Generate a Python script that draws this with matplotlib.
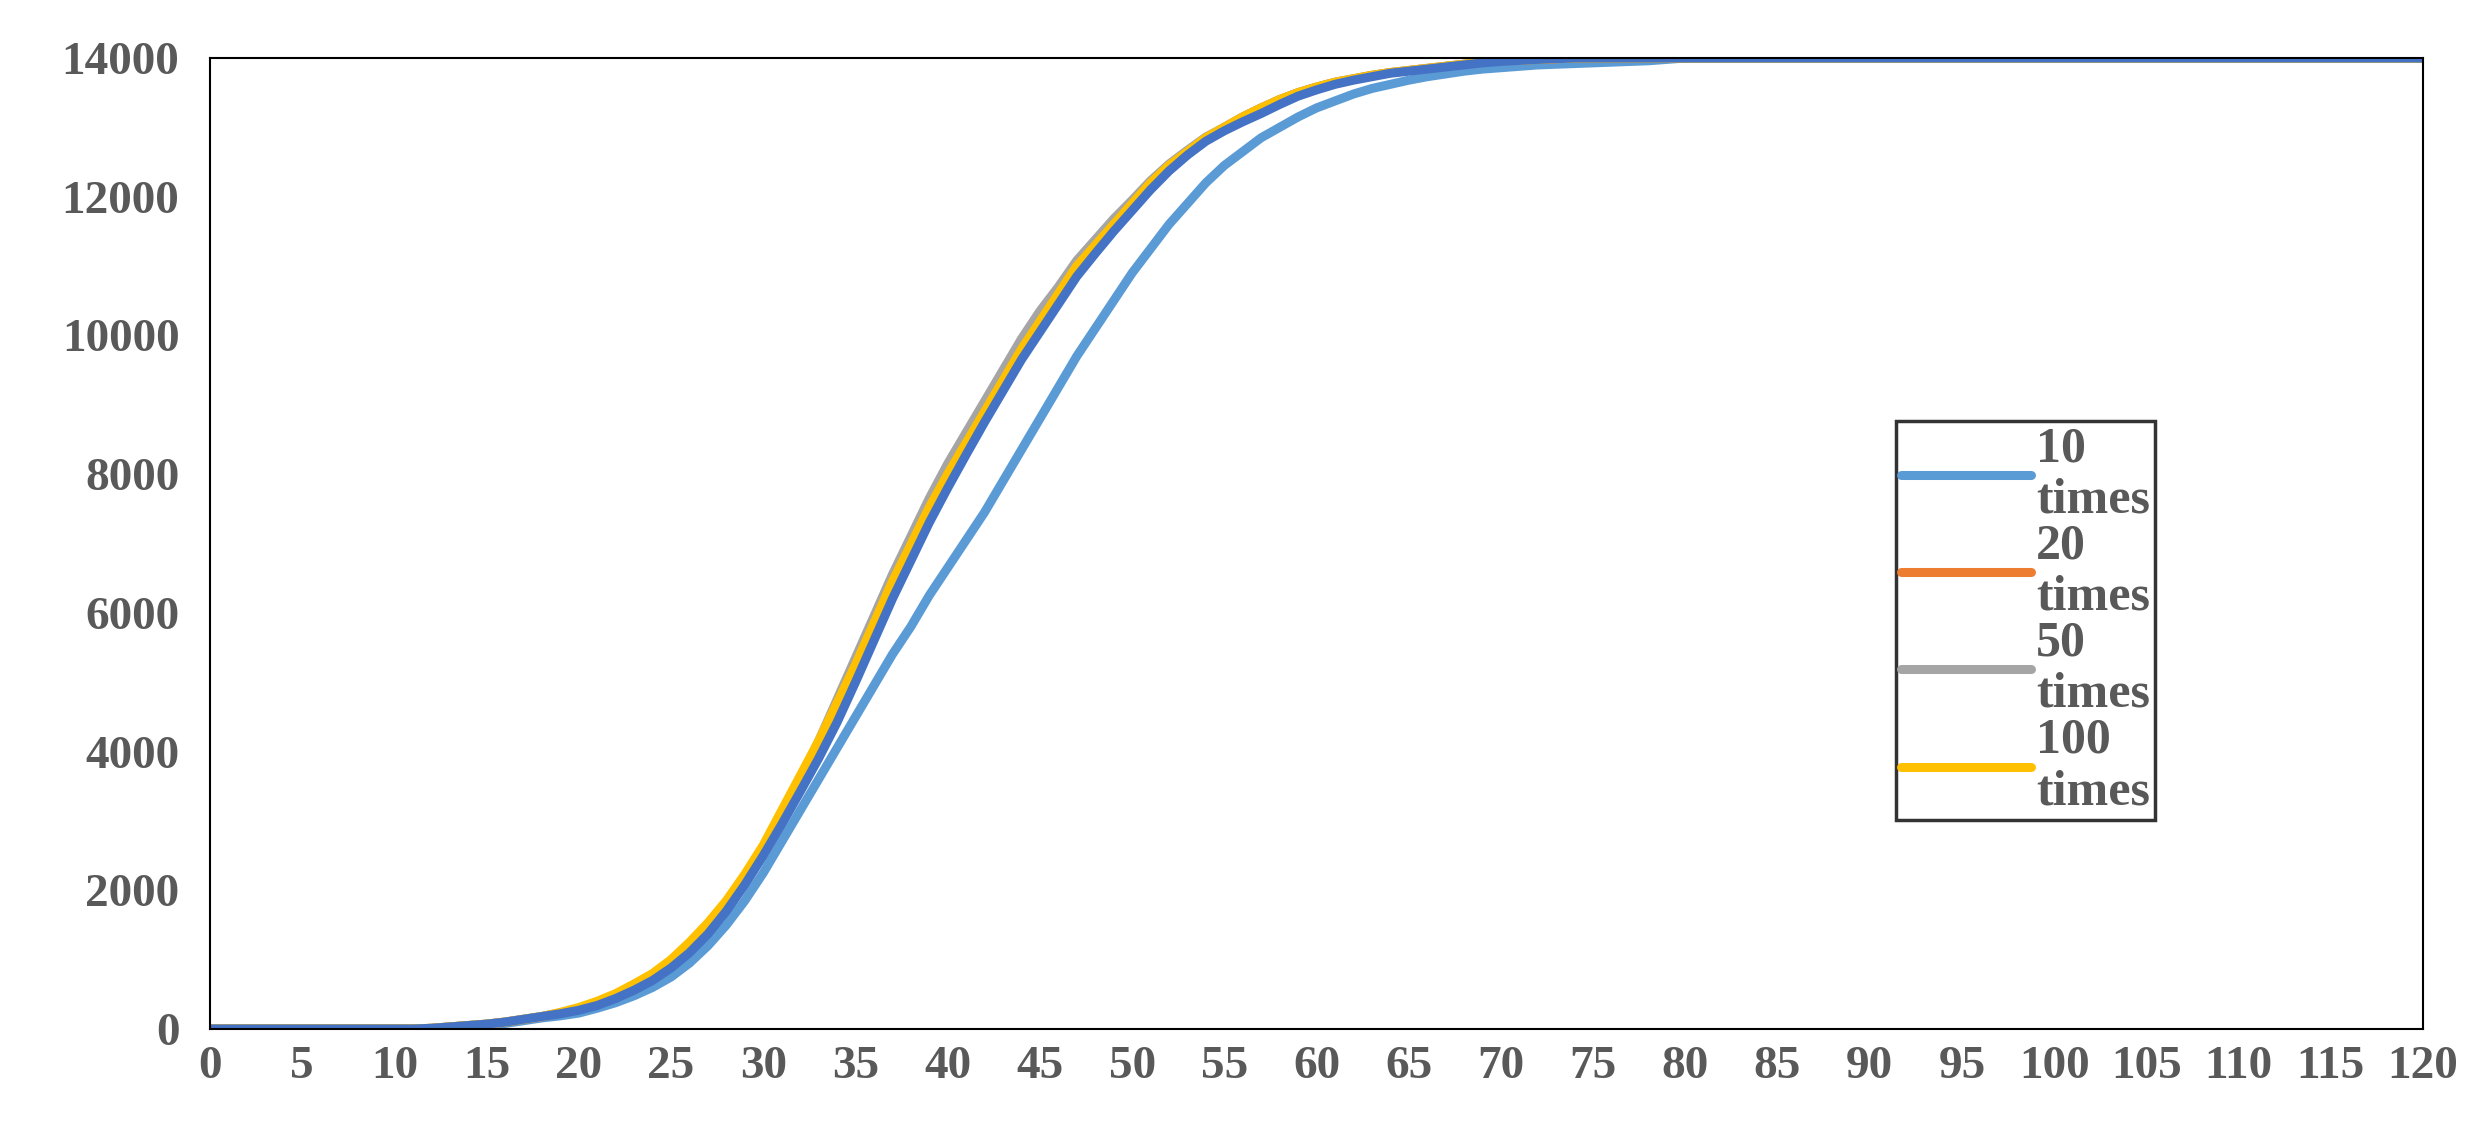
import matplotlib.pyplot as plt

x = list(range(0, 121))
tail = [14000] * 40  # x = 81..120, all curves flat at the top

times10 = [0]*15 + [40, 80, 120, 160, 190, 230, 300, 380, 480, 600, 750, 950, 1200, 1500, 1850,
    2250, 2700, 3150, 3600, 4050, 4500, 4950, 5400, 5800, 6250, 6650, 7050, 7450, 7900, 8350,
    8800, 9250, 9700, 10100, 10500, 10900, 11250, 11600, 11900, 12200, 12450, 12650, 12850, 13000, 13150,
    13280, 13380, 13480, 13560, 13620, 13680, 13730, 13770, 13810, 13840, 13860, 13880, 13900, 13910, 13920,
    13930, 13940, 13950, 13960, 13980, 14000] + tail
times20 = [0]*12 + [10, 30, 50, 70, 100, 140, 180, 230, 290, 370, 470, 600, 750, 950, 1180,
    1450, 1780, 2150, 2580, 3050, 3550, 4050, 4600, 5200, 5800, 6400, 6950, 7500, 8000, 8450,
    8900, 9350, 9800, 10200, 10600, 11000, 11300, 11600, 11900, 12200, 12450, 12650, 12850, 13000, 13150,
    13280, 13400, 13500, 13580, 13650, 13700, 13750, 13790, 13820, 13850, 13880, 13910, 13940, 13960, 13970,
    13980, 13990] + [14000]*7 + tail
times50 = [0]*12 + [10, 30, 50, 70, 100, 140, 180, 230, 290, 370, 470, 600, 750, 950, 1180,
    1450, 1780, 2150, 2580, 3050, 3600, 4150, 4750, 5350, 5950, 6550, 7100, 7650, 8150, 8600,
    9050, 9500, 9950, 10350, 10700, 11080, 11380, 11680, 11950, 12230, 12470, 12670, 12860, 13000, 13150,
    13280, 13400, 13500, 13580, 13650, 13700, 13750, 13790, 13820, 13850, 13880, 13910, 13940, 13960, 13970,
    13980, 13990] + [14000]*7 + tail
times100 = [0]*12 + [10, 30, 50, 70, 100, 140, 180, 240, 310, 400, 510, 650, 800, 1000, 1250,
    1530, 1850, 2230, 2650, 3150, 3650, 4150, 4700, 5250, 5850, 6450, 6980, 7520, 8000, 8450,
    8900, 9350, 9800, 10200, 10600, 11000, 11300, 11600, 11900, 12200, 12450, 12650, 12850, 13000, 13150,
    13280, 13400, 13500, 13580, 13650, 13700, 13750, 13790, 13820, 13850, 13880, 13910, 13940, 13960, 13970,
    13980, 13990] + [14000]*7 + tail
times200 = [0]*12 + [10, 30, 50, 70, 100, 140, 180, 220, 270, 340, 440, 560, 700, 880, 1100,
    1370, 1700, 2080, 2500, 2950, 3420, 3900, 4420, 5000, 5600, 6200, 6750, 7300, 7800, 8280,
    8750, 9200, 9650, 10050, 10450, 10850, 11180, 11500, 11800, 12100, 12370, 12600, 12800, 12950, 13080,
    13200, 13330, 13450, 13540, 13620, 13680, 13730, 13780, 13810, 13840, 13870, 13900, 13930, 13950, 13965,
    13980, 13990] + [14000]*7 + tail

series = [
    ("10\ntimes", times10, "#5B9BD5"),
    ("20\ntimes", times20, "#ED7D31"),
    ("50\ntimes", times50, "#A5A5A5"),
    ("100\ntimes", times100, "#FFC000"),
    (None, times200, "#4472C4"),
]

plt.rcParams['font.family'] = ['Liberation Serif', 'DejaVu Serif']
fig = plt.figure(figsize=(24.79, 11.28), dpi=100)
ax = fig.add_axes([210/2479, 1 - 1029/1128, 2213/2479, 971/1128])

for label, y, c in series:
    ax.plot(x, y, color=c, lw=6.5, label=label, solid_capstyle='round')

ax.set_xlim(0, 120)
ax.set_ylim(0, 14000)
ax.set_xticks(range(0, 121, 5))
ax.set_yticks(range(0, 14001, 2000))
ax.tick_params(length=0, labelsize=34, labelcolor="#595959")
ax.tick_params(axis="y", pad=22)
ax.tick_params(axis="x", pad=12)
for t in ax.get_xticklabels() + ax.get_yticklabels():
    t.set_fontweight("bold")
for sp in ax.spines.values():
    sp.set_color("black")
    sp.set_linewidth(1.5)

h, l = ax.get_legend_handles_labels()
leg = ax.legend(h[:4], l[:4], loc="lower left", bbox_to_anchor=(0.762, 0.215),
                prop={"size": 36, "weight": "bold"}, frameon=True, fancybox=False,
                edgecolor="black", handlelength=2.6, labelspacing=0.0,
                borderpad=0.1, handletextpad=0.1, borderaxespad=0)
leg.get_frame().set_linewidth(2.5)
for t in leg.get_texts():
    t.set_color("#595959")
    t.set_linespacing(1.15)

fig.savefig("out.png", dpi=100, facecolor="white")
